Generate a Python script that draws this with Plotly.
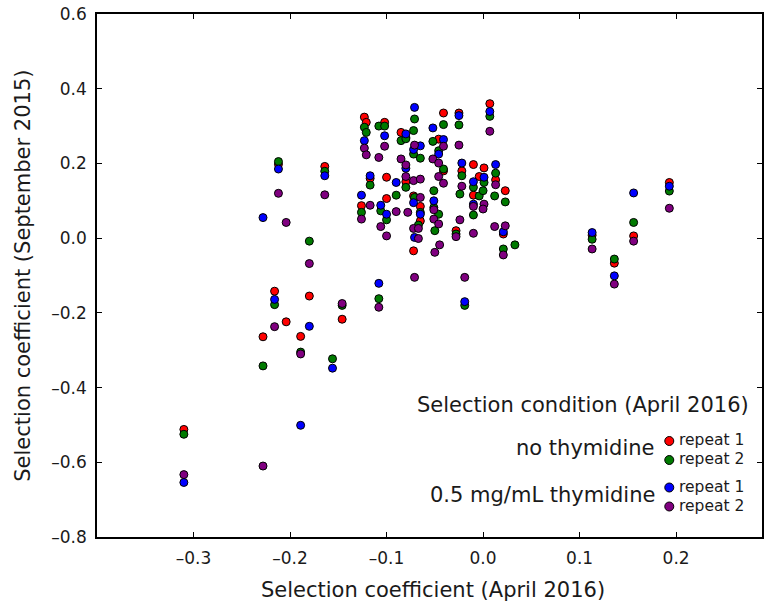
import plotly.graph_objects as go

# Selection coefficient (April 2016) for each mutant
x_april = [-0.310, -0.228, -0.212, -0.216, -0.204, -0.180, -0.189, -0.164, -0.146, -0.156,
           -0.126, -0.123, -0.121, -0.117, -0.108, -0.108, -0.106, -0.102, -0.100, -0.100,
           -0.090, -0.085, -0.080, -0.080, -0.078, -0.071, -0.072, -0.072, -0.071, -0.065,
           -0.065, -0.067, -0.067, -0.052, -0.051, -0.051, -0.050, -0.041, -0.046, -0.041,
           -0.046, -0.046, -0.045, -0.025, -0.022, -0.024, -0.028, -0.019, -0.010, -0.010,
           -0.004, 0.001, 0.000, 0.007, 0.013, 0.012, 0.023, 0.021, 0.033, 0.113,
           0.136, 0.156, 0.193]

# Selection coefficient (September 2015), by April 2016 selection condition
no_thy_rep1 = [-0.512, -0.264, 0.198, -0.142, -0.224, -0.155, -0.263, 0.192, -0.217, None,
               0.087, 0.324, 0.310, 0.160, None, None, None, 0.310, 0.163, 0.106,
               None, 0.283, 0.270, 0.151, None, None, 0.113, -0.034, None, 0.085,
               0.046, None, None, None, None, None, None, 0.335, 0.265, 0.180,
               None, None, None, 0.335, 0.180, None, 0.020, None, 0.197, 0.115,
               0.165, 0.188, None, 0.360, 0.156, None, 0.127, 0.011, None, 0.008,
               -0.067, 0.006, 0.149]
no_thy_rep2 = [-0.525, -0.342, 0.205, -0.178, None, -0.008, -0.305, 0.179, -0.180, -0.323,
               0.069, 0.297, 0.283, 0.142, 0.300, -0.162, 0.073, 0.300, None, 0.049,
               0.115, 0.261, 0.266, 0.136, None, 0.319, 0.288, 0.225, 0.109, 0.214,
               0.069, 0.035, None, 0.259, 0.127, 0.082, 0.020, 0.304, 0.234, 0.185,
               0.064, None, None, 0.303, 0.167, 0.118, 0.011, -0.180, 0.136, 0.062,
               0.113, 0.149, 0.127, 0.326, 0.174, 0.113, 0.097, -0.029, -0.018, -0.003,
               -0.056, 0.042, 0.126]
thy_rep1 = [-0.654, 0.055, 0.185, -0.164, None, -0.236, -0.501, 0.167, None, -0.348,
            0.115, 0.261, None, 0.167, None, -0.121, 0.088, 0.274, None, 0.064,
            0.149, None, 0.279, 0.187, None, 0.350, 0.237, 0.095, 0.002, 0.247,
            0.064, None, None, 0.295, 0.100, None, None, 0.264, 0.225, None,
            None, None, None, 0.328, 0.201, None, None, -0.170, 0.151, 0.091,
            None, 0.163, None, 0.339, 0.197, None, None, 0.017, None, 0.015,
            -0.101, 0.121, 0.139]
thy_rep2 = [-0.633, -0.610, 0.120, -0.237, 0.042, -0.068, -0.310, 0.116, -0.175, None,
            0.051, 0.241, 0.223, 0.088, 0.216, -0.185, 0.031, 0.246, None, 0.006,
            0.071, 0.212, 0.196, 0.165, 0.069, 0.249, 0.154, 0.026, -0.105, 0.158,
            0.109, 0.026, -0.001, 0.212, 0.076, 0.051, -0.038, 0.246, 0.201, 0.147,
            0.165, 0.038, -0.018, 0.249, 0.139, 0.049, 0.004, -0.105, 0.085, 0.013,
            None, 0.091, 0.078, 0.286, 0.143, 0.031, 0.033, -0.045, None, -0.029,
            -0.123, -0.008, 0.080]

series_names = ["no thymidine, repeat 1", "no thymidine, repeat 2",
                "0.5 mg/mL thymidine, repeat 1", "0.5 mg/mL thymidine, repeat 2"]
series_values = [no_thy_rep1, no_thy_rep2, thy_rep1, thy_rep2]
series_colors = ["#ff0000", "#007a00", "#0000ff", "#800080"]

x_ticks = [-0.3, -0.2, -0.1, 0.0, 0.1, 0.2]
x_tick_labels = ["–0.3", "–0.2", "–0.1", "0.0", "0.1", "0.2"]
y_ticks = [-0.8, -0.6, -0.4, -0.2, 0.0, 0.2, 0.4, 0.6]
y_tick_labels = ["–0.8", "–0.6", "–0.4", "–0.2", "0.0", "0.2", "0.4", "0.6"]

FONT = "DejaVu Sans, Liberation Sans, Arial, sans-serif"
TXT = "#1a1a1a"

fig = go.Figure()
for name, vals, col in zip(series_names, series_values, series_colors):
    fig.add_trace(go.Scatter(
        x=x_april, y=vals, mode="markers", name=name,
        marker=dict(size=8, color=col, line=dict(color="black", width=1)),
        showlegend=False,
    ))

W, H = 764, 604
L, R, T, B = 97, 0, 14, 67
pw, ph = W - L - R, H - T - B

def px(xp):
    return (xp - L) / pw

def py(yp):
    return (H - B - yp) / ph

axis_common = dict(showgrid=False, zeroline=False, showline=True, linecolor="black",
                   linewidth=1.5, mirror="allticks", ticks="inside", ticklen=5,
                   tickwidth=1, tickcolor="black",
                   tickfont=dict(family=FONT, size=17, color=TXT))

fig.update_layout(
    width=W, height=H,
    margin=dict(l=L, r=R, t=T, b=B, pad=0),
    paper_bgcolor="white", plot_bgcolor="white",
    xaxis=dict(range=[-0.4, 0.289], tickvals=x_ticks, ticktext=x_tick_labels,
               ticklabelstandoff=5, **axis_common),
    yaxis=dict(range=[-0.8, 0.6], tickvals=y_ticks, ticktext=y_tick_labels,
               ticklabelstandoff=5, **axis_common),
    font=dict(family=FONT, color=TXT),
)

BIG = 21
SMALL = 15.5
annotations = [
    dict(text="Selection coefficient (April 2016)", x=px(434), y=py(590),
         xanchor="center", yanchor="middle", font=dict(size=BIG)),
    dict(text="Selection coefficient (September 2015)", x=px(22), y=0.5, textangle=-90,
         xanchor="center", yanchor="middle", font=dict(size=BIG)),
    dict(text="Selection condition (April 2016)", x=px(753), y=py(405),
         xanchor="right", yanchor="middle", font=dict(size=BIG)),
    dict(text="no thymidine", x=px(659), y=py(448),
         xanchor="right", yanchor="middle", font=dict(size=BIG)),
    dict(text="0.5 mg/mL thymidine", x=px(659), y=py(495),
         xanchor="right", yanchor="middle", font=dict(size=BIG)),
]
rep_labels = ["repeat 1", "repeat 2", "repeat 1", "repeat 2"]
rep_y = [440, 459, 486.5, 505.5]
for lab, yy, col in zip(rep_labels, rep_y, series_colors):
    annotations.append(dict(text=lab, x=px(680), y=py(yy), xanchor="left",
                            yanchor="middle", borderpad=0, font=dict(size=SMALL)))
for a in annotations:
    a.update(xref="paper", yref="paper", showarrow=False)
fig.update_layout(annotations=annotations)

shapes = []
for yy, col in zip(rep_y, series_colors):
    shapes.append(dict(type="circle", xref="paper", yref="paper",
                       xsizemode="pixel", ysizemode="pixel",
                       xanchor=px(671), yanchor=py(yy + 1),
                       x0=-4.5, x1=4.5, y0=-4.5, y1=4.5,
                       fillcolor=col, line=dict(color="black", width=1)))
fig.update_layout(shapes=shapes)

fig.write_html("out.html", config={"displayModeBar": False},
               post_script="document.body.style.margin='0';document.body.style.overflow='hidden';")
